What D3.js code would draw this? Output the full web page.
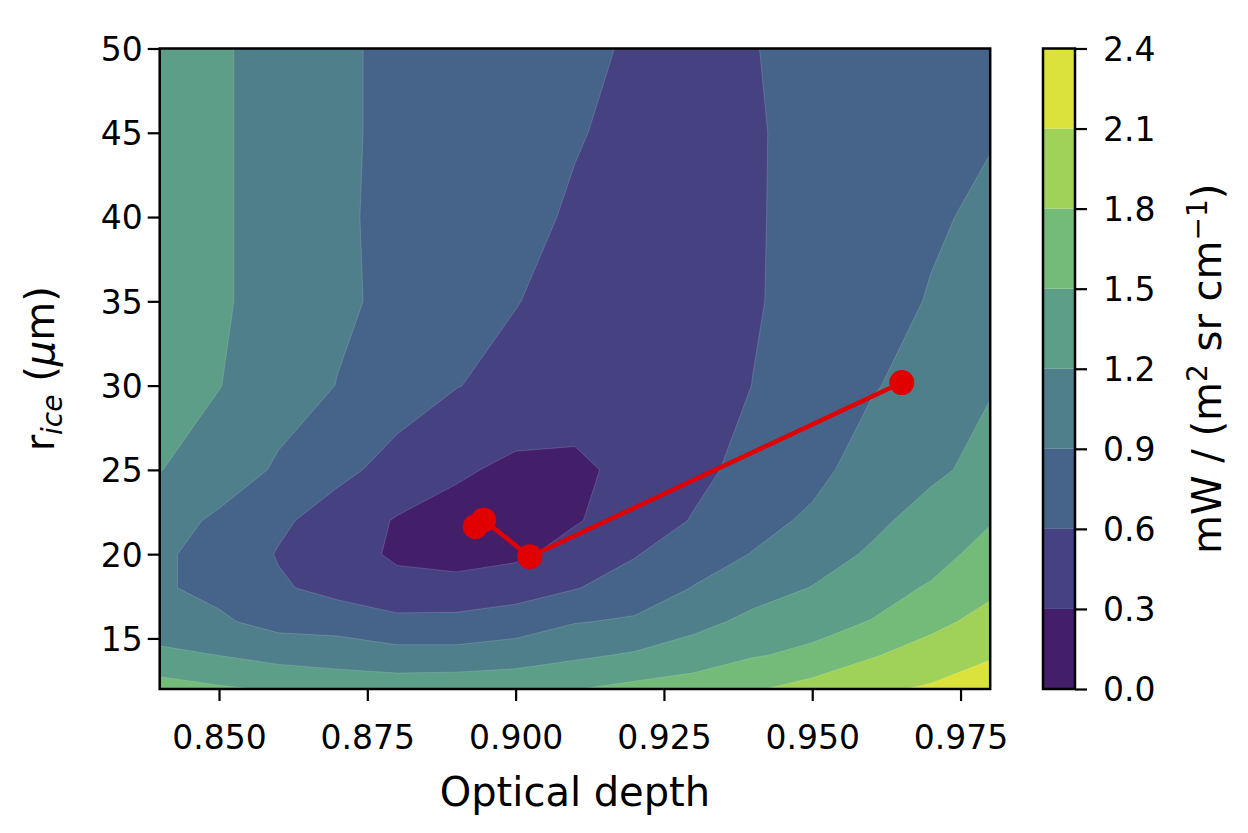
<!DOCTYPE html>
<html>
<head>
<meta charset="utf-8">
<script src="https://cdn.jsdelivr.net/npm/d3@7"></script>
<style>
  html, body { margin: 0; padding: 0; background: #ffffff; }
  svg { display: block; }
  text { font-family: "DejaVu Sans", sans-serif; fill: #000; }
</style>
</head>
<body>
<svg id="chart" width="1248" height="833"></svg>
<script>
// ---------------- data ----------------
const opticalDepth = [0.84, 0.85, 0.86, 0.87, 0.88, 0.89, 0.90, 0.91, 0.92, 0.93, 0.94, 0.95, 0.96, 0.97, 0.98];
const rIce = [12, 14, 16, 18, 20, 22, 25, 30, 35, 40, 45, 50];

// residual (mW / (m2 sr cm-1)) along optical depth, one row per r_ice value
const resR12 = [1.633, 1.539, 1.47, 1.40, 1.38, 1.40, 1.44, 1.49, 1.58, 1.626, 1.77, 1.92, 2.05, 2.136, 2.25];
const resR14 = [1.27, 1.198, 1.10, 1.06, 1.00, 1.00, 1.04, 1.15, 1.233, 1.363, 1.48, 1.56, 1.777, 1.928, 2.075];
const resR16 = [1.02, 0.942, 0.80, 0.78, 0.68, 0.68, 0.76, 0.885, 0.935, 1.10, 1.28, 1.40, 1.51, 1.72, 1.90];
const resR18 = [0.93, 0.83, 0.64, 0.50, 0.37, 0.39, 0.45, 0.585, 0.735, 0.91, 1.07, 1.21, 1.38, 1.53, 1.74];
const resR20 = [0.93, 0.83, 0.58, 0.40, 0.265, 0.20, 0.25, 0.40, 0.58, 0.78, 0.91, 1.06, 1.24, 1.39, 1.61];
const resR22 = [1.00, 0.86, 0.66, 0.45, 0.28, 0.20, 0.16, 0.28, 0.42, 0.62, 0.82, 0.94, 1.13, 1.32, 1.48];
const resR25 = [1.21, 1.03, 0.87, 0.68, 0.49, 0.34, 0.24, 0.25, 0.37, 0.52, 0.70, 0.83, 1.01, 1.14, 1.30];
const resR30 = [1.30, 1.21, 1.00, 0.895, 0.75, 0.61, 0.51, 0.43, 0.36, 0.40, 0.605, 0.76, 0.88, 1.00, 1.18];
const resR35 = [1.37, 1.27, 0.99, 0.93, 0.86, 0.73, 0.61, 0.50, 0.42, 0.40, 0.57, 0.72, 0.84, 0.91, 0.99];
const resR40 = [1.38, 1.27, 0.99, 0.93, 0.85, 0.77, 0.68, 0.565, 0.48, 0.45, 0.57, 0.70, 0.80, 0.88, 0.93];
const resR45 = [1.38, 1.27, 0.99, 0.93, 0.86, 0.78, 0.70, 0.62, 0.53, 0.48, 0.57, 0.69, 0.77, 0.84, 0.89];
const resR50 = [1.40, 1.27, 0.99, 0.93, 0.86, 0.79, 0.72, 0.64, 0.58, 0.52, 0.59, 0.68, 0.75, 0.81, 0.86];

const contourLevels = [0, 0.3, 0.6, 0.9, 1.2, 1.5, 1.8, 2.1, 2.4];
const bandColors = ["#431e69", "#464282", "#46648a", "#4f7f8a", "#5c9e88", "#74ba78", "#a0d25a", "#dce23c"];

const xTickValues = [0.85, 0.875, 0.9, 0.925, 0.95, 0.975];
const yTickValues = [15, 20, 25, 30, 35, 40, 45, 50];
const cbarTickValues = [0.0, 0.3, 0.6, 0.9, 1.2, 1.5, 1.8, 2.1, 2.4];

// retrieval path (optical depth, r_ice)
const pathTau = [0.9651, 0.9024, 0.8946, 0.8932];
const pathR = [30.18, 19.85, 22.03, 21.63];

const residual = [resR12, resR14, resR16, resR18, resR20, resR22, resR25, resR30, resR35, resR40, resR45, resR50];

// ---------------- layout ----------------
const plot = { left: 159.7, right: 990.2, top: 48.5, bottom: 689 };
const cbar = { left: 1043, right: 1075 };
const tickFont = 33, labelFont = 40;

const svg = d3.select("#chart");

const x = d3.scaleLinear([0.84, 0.98], [plot.left, plot.right]);
const y = d3.scaleLinear([12, 50], [plot.bottom, plot.top]);

// grid index -> data value (piecewise linear, handles uneven r_ice spacing)
const nx = opticalDepth.length, ny = rIce.length;
const ix = d3.scaleLinear(d3.range(nx), opticalDepth).clamp(true);
const iy = d3.scaleLinear(d3.range(ny), rIce).clamp(true);

const values = residual.flat();
const contourGen = d3.contours().size([nx, ny]).thresholds(contourLevels.slice(0, -1));
const bands = contourGen(values);

const proj = d3.geoTransform({
  point(px, py) { this.stream.point(x(ix(px - 0.5)), y(iy(py - 0.5))); }
});
const geo = d3.geoPath(proj);

svg.append("defs").append("clipPath").attr("id", "plotclip")
  .append("rect")
  .attr("x", plot.left).attr("y", plot.top)
  .attr("width", plot.right - plot.left).attr("height", plot.bottom - plot.top);

const gc = svg.append("g").attr("clip-path", "url(#plotclip)");
gc.selectAll("path.band")
  .data(bands)
  .join("path")
  .attr("class", "band")
  .attr("d", geo)
  .attr("fill", (d, i) => bandColors[i])
  .attr("stroke", (d, i) => i === 0 ? "none" : "rgba(255,255,255,0.22)")
  .attr("stroke-width", 0.7);

// retrieval path
const pts = pathTau.map((t, i) => [t, pathR[i]]);
gc.append("path")
  .attr("d", d3.line().x(d => x(d[0])).y(d => y(d[1]))(pts))
  .attr("fill", "none")
  .attr("stroke", "#e00000")
  .attr("stroke-width", 4.5);
gc.selectAll("circle.pt")
  .data(pts)
  .join("circle")
  .attr("class", "pt")
  .attr("cx", d => x(d[0]))
  .attr("cy", d => y(d[1]))
  .attr("r", 12.5)
  .attr("fill", "#e00000");

// frame
svg.append("rect")
  .attr("x", plot.left).attr("y", plot.top)
  .attr("width", plot.right - plot.left).attr("height", plot.bottom - plot.top)
  .attr("fill", "none").attr("stroke", "#000").attr("stroke-width", 2.5);

function styleAxis(g) {
  g.select(".domain").remove();
  g.attr("font-size", tickFont).attr("font-family", "DejaVu Sans");
  g.selectAll(".tick line").attr("stroke", "#000").attr("stroke-width", 2.2);
  g.selectAll(".tick text").attr("fill", "#000");
}

const gx = svg.append("g")
  .attr("transform", `translate(0,${plot.bottom})`)
  .call(d3.axisBottom(x).tickValues(xTickValues).tickFormat(d3.format(".3f")).tickSize(12).tickPadding(25));
styleAxis(gx);

const gy = svg.append("g")
  .attr("transform", `translate(${plot.left},0)`)
  .call(d3.axisLeft(y).tickValues(yTickValues).tickFormat(d3.format("d")).tickSize(12).tickPadding(5));
styleAxis(gy);
gy.selectAll(".tick text").attr("dy", "0.36em");

// axis labels
svg.append("text")
  .attr("x", (plot.left + plot.right) / 2)
  .attr("y", 806)
  .attr("text-anchor", "middle")
  .attr("font-size", labelFont)
  .text("Optical depth");

const yl = svg.append("text")
  .attr("transform", `translate(54,${(plot.top + plot.bottom) / 2}) rotate(-90)`)
  .attr("text-anchor", "middle")
  .attr("font-size", labelFont);
yl.append("tspan").text("r");
yl.append("tspan").attr("font-size", 28).attr("font-style", "italic").attr("dy", 8).text("ice");
yl.append("tspan").attr("dy", -8).text(" (");
yl.append("tspan").attr("font-style", "italic").text("μ");
yl.append("tspan").text("m)");

// ---------------- colorbar ----------------
const cy = d3.scaleLinear([0, 2.4], [plot.bottom, plot.top]);
const bandData = d3.range(contourLevels.length - 1).map(i => [contourLevels[i], contourLevels[i + 1]]);
svg.append("g").selectAll("rect")
  .data(bandData)
  .join("rect")
  .attr("x", cbar.left)
  .attr("width", cbar.right - cbar.left)
  .attr("y", d => cy(d[1]))
  .attr("height", d => cy(d[0]) - cy(d[1]))
  .attr("fill", (d, i) => bandColors[i]);
svg.append("rect")
  .attr("x", cbar.left).attr("y", plot.top)
  .attr("width", cbar.right - cbar.left).attr("height", plot.bottom - plot.top)
  .attr("fill", "none").attr("stroke", "#000").attr("stroke-width", 2.5);

const gcb = svg.append("g")
  .attr("transform", `translate(${cbar.right},0)`)
  .call(d3.axisRight(cy).tickValues(cbarTickValues).tickFormat(d3.format(".1f")).tickSize(12).tickPadding(16));
styleAxis(gcb);
gcb.selectAll(".tick text").attr("dy", "0.36em");

const cl = svg.append("text")
  .attr("transform", `translate(1221,${(plot.top + plot.bottom) / 2}) rotate(-90)`)
  .attr("text-anchor", "middle")
  .attr("font-size", labelFont);
cl.append("tspan").text("mW / (m");
cl.append("tspan").attr("font-size", 28).attr("dy", -14).text("2");
cl.append("tspan").attr("dy", 14).text(" sr cm");
cl.append("tspan").attr("font-size", 28).attr("dy", -14).text("−1");
cl.append("tspan").attr("dy", 14).text(")");
</script>
</body>
</html>
